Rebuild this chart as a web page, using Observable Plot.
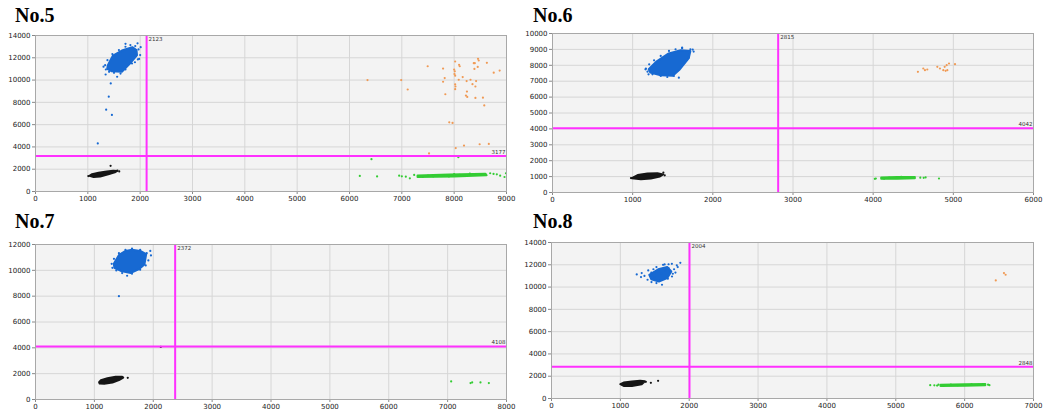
<!DOCTYPE html>
<html>
<head>
<meta charset="utf-8">
<script src="https://cdn.jsdelivr.net/npm/d3@7"></script>
<script src="https://cdn.jsdelivr.net/npm/@observablehq/plot@0.6"></script>
<style>
  html, body { margin: 0; padding: 0; background: #fff; }
  body { width: 1051px; height: 418px; position: relative; overflow: hidden; }
  .title { position: absolute; font: bold 20px "Liberation Serif", "DejaVu Serif", serif; line-height: 20px; color: #000; }
  .chart { position: absolute; }
</style>
</head>
<body>
<div class="title" style="left:15px;top:5px">No.5</div>
<div class="title" style="left:533px;top:5px">No.6</div>
<div class="title" style="left:15px;top:211px">No.7</div>
<div class="title" style="left:533px;top:211px">No.8</div>
<div class="chart" id="p5" style="left:0px;top:25px"></div>
<div class="chart" id="p6" style="left:520px;top:23px"></div>
<div class="chart" id="p7" style="left:0px;top:234px"></div>
<div class="chart" id="p8" style="left:520px;top:232px"></div>
<script>
// ---------- Panel No.5 ----------
const p5Thresholds = [2123, 3177];
const p5BlueCore = [[1380,11300],[1480,12200],[1650,12650],[1850,12950],[1930,12700],[1940,12250],[1800,11450],[1650,10750],[1450,10800],[1370,11000]];
const p5BlueDots = [[1331,11338],[1375,11789],[1469,12331],[1594,12692],[1719,12992],[1813,13143],[1906,13053],[1969,12752],[2000,12241],[1956,11850],[1844,11489],[1719,10947],[1625,10586],[1500,10647],[1406,10737],[1344,10947],[1438,9700],[1400,8510],[1350,7340],[1460,6870],[1190,4310],[1950,13300],[2010,12950],[1300,11200],[1340,10500],[1560,10300],[1980,11900],[1900,11600],[1720,13250]];
const p5BlackCore = [[1031,1415],[1081,1560],[1205,1690],[1360,1800],[1484,1860],[1560,1850],[1515,1723],[1391,1538],[1236,1340],[1112,1300]];
const p5BlackDots = [[1435,2300],[1565,1877],[1010,1380],[1600,1800]];
const p5GreenCore = [[7300,1300],[7300,1440],[7900,1530],[8600,1600],[8620,1450],[8000,1350]];
const p5GreenDots = [[6197,1400],[6527,1350],[6420,2900],[8080,3080],[6949,1424],[7000,1364],[7076,1333],[7153,1182],[7236,1485],[7320,1380],[7400,1300],[7500,1420],[7600,1350],[7700,1480],[7800,1400],[7900,1350],[8000,1560],[8100,1500],[8200,1420],[8300,1600],[8400,1480],[8500,1560],[8688,1636],[8752,1576],[8815,1545],[8879,1424],[8962,1303],[8990,1636]];
const p5Orange = [[6344,10000],[6988,10000],[7112,9152],[7494,11242],[7788,11030],[7819,10182],[7788,9848],[7831,8727],[8019,11667],[8000,10939],[8012,10788],[8006,10545],[8019,10394],[8094,11364],[8106,11242],[8163,10273],[8087,10030],[8019,9606],[8025,9424],[8019,9182],[8238,9909],[8312,10030],[8350,9636],[8419,9909],[8406,9424],[8244,8970],[8225,8606],[8250,8485],[8406,8394],[8550,8424],[8575,7727],[8375,11515],[8394,11515],[8456,11909],[8469,11758],[8450,11182],[8387,11000],[8625,11545],[8756,10667],[8869,10848],[7906,6212],[7969,6152],[8188,4121],[8487,4242],[8662,4273],[7520,3420],[8030,3900]];

// ---------- Panel No.6 ----------
const p6Thresholds = [2815, 4042];
const p6BlueCore = [[1200,7750],[1300,8250],[1450,8750],[1600,8950],[1720,8900],[1700,8450],[1580,7700],[1500,7350],[1350,7380],[1220,7550]];
const p6BlueDots = [[1165,7789],[1206,8063],[1267,8316],[1350,8589],[1453,8905],[1535,9011],[1617,9074],[1720,9011],[1761,8863],[1700,8484],[1617,8063],[1556,7642],[1514,7326],[1432,7263],[1350,7326],[1247,7432],[1185,7600],[1576,7221],[1749,8989],[1617,9116],[1198,7432],[1160,7750]];
const p6BlackCore = [[990,900],[1062,1100],[1185,1190],[1309,1210],[1380,1140],[1340,1010],[1226,880],[1103,840]];
const p6BlackDots = [[1383,1250],[979,905],[1400,1080]];
const p6GreenCore = [[4100,860],[4100,940],[4300,970],[4520,980],[4520,890],[4300,860]];
const p6GreenDots = [[4021,860],[4033,880],[4115,900],[4136,870],[4200,940],[4350,990],[4450,950],[4588,930],[4630,920],[4654,950],[4821,880]];
const p6Orange = [[4558,7589],[4625,7799],[4646,7694],[4675,7736],[4800,7904],[4833,7799],[4875,7694],[4892,7904],[4917,8008],[4925,7694],[4946,8113],[5021,8071],[4904,7652]];

// ---------- Panel No.7 ----------
const p7Thresholds = [2372, 4108];
const p7BlueCore = [[1330,10500],[1420,11200],[1530,11500],[1640,11600],[1780,11500],[1880,11250],[1850,10450],[1760,10100],[1620,9800],[1450,9950],[1340,10200]];
const p7BlueDots = [[1294,10507],[1333,10893],[1417,11331],[1528,11588],[1639,11691],[1778,11588],[1889,11331],[1961,11151],[1917,10764],[1872,10378],[1778,10044],[1639,9735],[1556,9581],[1472,9786],[1372,9992],[1306,10198],[1417,8000],[1950,11500]];
const p7BlackCore = [[1080,1350],[1111,1500],[1222,1650],[1361,1760],[1472,1770],[1490,1700],[1417,1498],[1306,1310],[1167,1220],[1090,1230]];
const p7BlackDots = [[1567,1680],[2128,4070]];
const p7Green = [[7060,1400],[7389,1270],[7417,1322],[7558,1322],[7700,1270]];

// ---------- Panel No.8 ----------
const p8Thresholds = [2004, 2848];
const p8BlueCore = [[1420,11100],[1550,11600],[1680,11800],[1740,11400],[1680,10800],[1560,10500],[1450,10700]];
const p8BlueDots = [[1238,11134],[1310,11254],[1405,11493],[1524,11791],[1643,12030],[1748,12090],[1871,12179],[1833,11791],[1762,11194],[1690,10746],[1605,10209],[1524,10358],[1452,10448],[1395,10657],[1300,10896],[1350,11000],[1450,11300],[1500,10900],[1600,11200],[1650,11500],[1700,11700],[1780,11600],[1800,11300],[1750,10950],[1550,10600],[1480,11600],[1620,12000],[1700,12050],[1820,11950]];
const p8BlackCore = [[1000,1284],[1048,1430],[1167,1520],[1286,1600],[1357,1540],[1310,1284],[1167,1130],[1048,1130]];
const p8BlackDots = [[1443,1403],[1548,1582],[1370,1500]];
const p8GreenCore = [[5650,1130],[5650,1230],[6000,1290],[6300,1300],[6300,1180],[6000,1140]];
const p8GreenDots = [[5500,1200],[5560,1180],[5600,1160],[5620,1240],[5700,1170],[5800,1250],[5900,1200],[6100,1280],[6200,1220],[6340,1240],[6360,1200]];
const p8Orange = [[6452,10600],[6571,11254],[6595,11104]];

const BLUE = "#1769d2", BLACK = "#151515", GREEN = "#33cc33", ORANGE = "#f09a55", MAGENTA = "#ff30ff";

function panel(cfg) {
  const xTicks = d3.range(0, cfg.xMax + 1, 1000);
  const yTicks = d3.range(0, cfg.yMax + 1, cfg.yStep);
  const px = d => d[0], py = d => d[1];
  const marks = [
    Plot.frame({fill: "#f3f3f3", stroke: null}),
    Plot.gridX(xTicks, {stroke: "#d6d6d6", strokeOpacity: 1}),
    Plot.gridY(yTicks, {stroke: "#d6d6d6", strokeOpacity: 1}),
    Plot.axisX(xTicks, {tickSize: 3, tickPadding: 2, tickFormat: d3.format("d"), fill: "#222", stroke: "#888"}),
    Plot.axisY(yTicks, {tickSize: 3, tickPadding: 2, tickFormat: d3.format("d"), fill: "#222", stroke: "#888"})
  ];
  for (const c of cfg.clusters) {
    if (c.core) marks.push(Plot.hull(c.core, {x: px, y: py, fill: c.color, stroke: c.color, strokeWidth: 2, strokeLinejoin: "round"}));
    if (c.dots) marks.push(Plot.dot(c.dots, {x: px, y: py, r: 1.1, fill: c.color, stroke: null}));
  }
  marks.push(
    Plot.ruleX([cfg.th[0]], {x: d => d, stroke: MAGENTA, strokeWidth: 2}),
    Plot.ruleY([cfg.th[1]], {y: d => d, stroke: MAGENTA, strokeWidth: 2}),
    Plot.text([cfg.th[0]], {x: d => d, y: cfg.yMax, text: d => String(d), dx: 2, dy: 4, textAnchor: "start", fontSize: 5.5, fill: "#333"}),
    Plot.text([cfg.th[1]], {x: cfg.xMax, y: d => d, text: d => String(d), dx: -1, dy: -4, textAnchor: "end", fontSize: 5.5, fill: "#333"}),
    Plot.frame({stroke: "#a8a8a8"})
  );
  const chart = Plot.plot({
    width: cfg.width, height: cfg.height,
    marginTop: 10, marginBottom: 17, marginLeft: cfg.ml, marginRight: cfg.mr,
    x: {domain: [0, cfg.xMax]},
    y: {domain: [0, cfg.yMax]},
    style: {fontFamily: "'DejaVu Sans', sans-serif", fontSize: "7px", background: "transparent", color: "#222"},
    marks
  });
  document.getElementById(cfg.id).appendChild(chart);
}

panel({id: "p5", width: 520, height: 183, ml: 35, mr: 14, xMax: 9000, yMax: 14000, yStep: 2000, th: p5Thresholds,
  clusters: [
    {core: p5BlackCore, dots: p5BlackDots, color: BLACK},
    {core: p5BlueCore, dots: p5BlueDots, color: BLUE},
    {core: p5GreenCore, dots: p5GreenDots, color: GREEN},
    {dots: p5Orange, color: ORANGE}
  ]});
panel({id: "p6", width: 531, height: 186, ml: 32, mr: 18, xMax: 6000, yMax: 10000, yStep: 1000, th: p6Thresholds,
  clusters: [
    {core: p6BlackCore, dots: p6BlackDots, color: BLACK},
    {core: p6BlueCore, dots: p6BlueDots, color: BLUE},
    {core: p6GreenCore, dots: p6GreenDots, color: GREEN},
    {dots: p6Orange, color: ORANGE}
  ]});
panel({id: "p7", width: 520, height: 182, ml: 35, mr: 14, xMax: 8000, yMax: 12000, yStep: 2000, th: p7Thresholds,
  clusters: [
    {core: p7BlackCore, dots: p7BlackDots, color: BLACK},
    {core: p7BlueCore, dots: p7BlueDots, color: BLUE},
    {dots: p7Green, color: GREEN}
  ]});
panel({id: "p8", width: 531, height: 183, ml: 31, mr: 18, xMax: 7000, yMax: 14000, yStep: 2000, th: p8Thresholds,
  clusters: [
    {core: p8BlackCore, dots: p8BlackDots, color: BLACK},
    {core: p8BlueCore, dots: p8BlueDots, color: BLUE},
    {core: p8GreenCore, dots: p8GreenDots, color: GREEN},
    {dots: p8Orange, color: ORANGE}
  ]});
</script>
</body>
</html>
